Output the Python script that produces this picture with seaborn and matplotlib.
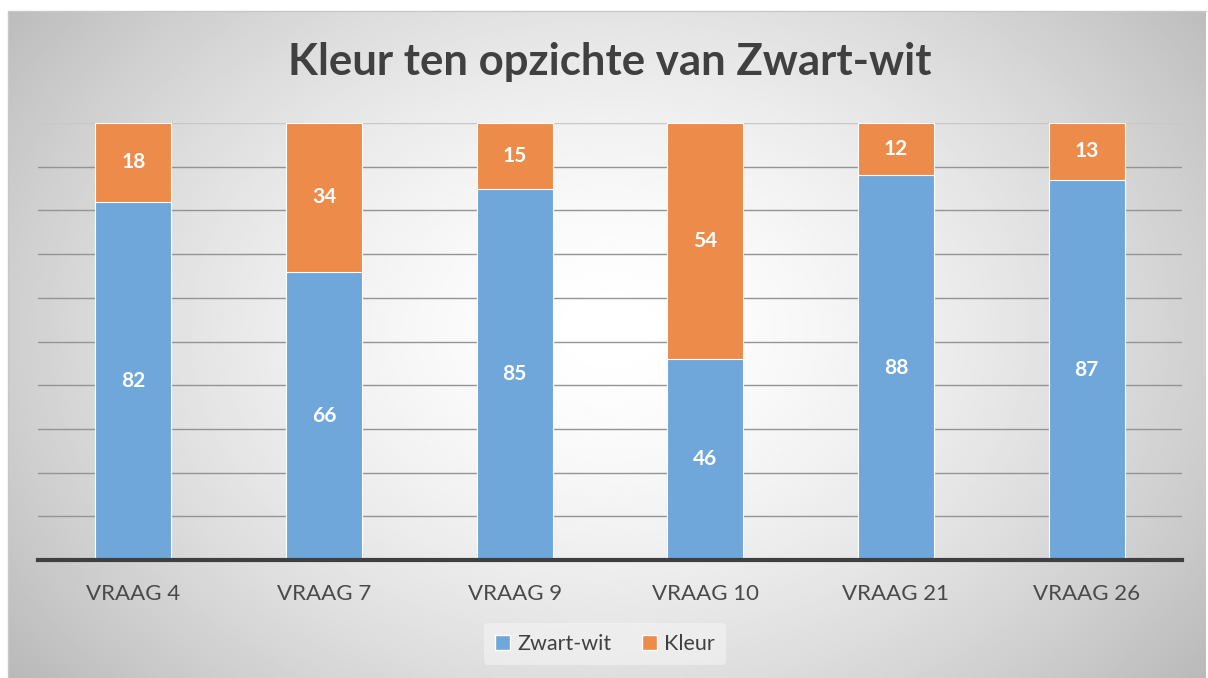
import numpy as np
import pandas as pd
import matplotlib
matplotlib.use("Agg")
import matplotlib.pyplot as plt
from matplotlib.patches import Patch
import seaborn as sns

categories = ["VRAAG 4", "VRAAG 7", "VRAAG 9", "VRAAG 10", "VRAAG 21", "VRAAG 26"]
zwart_wit = [82, 66, 85, 46, 88, 87]
kleur = [18, 34, 15, 54, 12, 13]
title = "Kleur ten opzichte van Zwart-wit"

sns.set_theme(style="white")
plt.rcParams['font.family'] = ['Lato', 'DejaVu Sans']

BLUE = "#6fa7db"
ORANGE = "#ec8b4a"

df = pd.DataFrame({"cat": categories, "zw": zwart_wit, "kl": kleur})
df["total"] = df["zw"] + df["kl"]

fig = plt.figure(figsize=(12.08, 6.78), dpi=100)
fig.patch.set_facecolor("white")

# background radial gradient
bg = fig.add_axes([0, 0, 1, 1], zorder=-10)
bg.set_xlim(0, 1208)
bg.set_ylim(678, 0)
bg.axis("off")
x0, x1, y0, y1 = 8, 1206, 11, 678
xs = np.linspace(x0, x1, 400)
ys = np.linspace(y0, y1, 250)
X, Y = np.meshgrid(xs, ys)
cx, cy = 610, 330
r = np.sqrt(((X - cx) / 700) ** 2 + ((Y - cy) / 520) ** 2)
val = 1.0 - 0.24 * np.clip(r, 0, 1.2) ** 1.6
bg.imshow(val, extent=(x0, x1, y1, y0), cmap="gray", vmin=0, vmax=1, aspect="auto", interpolation="bilinear")
bg.plot([x0, x1], [y0, y0], color="#c8c8c8", lw=1)
bg.plot([x0, x0], [y0, y1], color="#c8c8c8", lw=1)

ax = fig.add_axes([38 / 1208, 1 - 560 / 678, (1182 - 38) / 1208, (560 - 123) / 678])
ax.patch.set_alpha(0)

sns.barplot(data=df, x="cat", y="total", color=ORANGE, width=0.4, saturation=1,
            edgecolor="white", linewidth=0.8, ax=ax, zorder=3)
sns.barplot(data=df, x="cat", y="zw", color=BLUE, width=0.4, saturation=1,
            edgecolor="white", linewidth=0.8, ax=ax, zorder=3)

c_or, c_bl = ax.containers[0], ax.containers[1]
ax.bar_label(c_bl, labels=[str(v) for v in zwart_wit], label_type="center",
             color="white", fontsize=15, fontweight="bold", zorder=5)
for rect_o, rect_b, v in zip(c_or, c_bl, kleur):
    xc = rect_o.get_x() + rect_o.get_width() / 2
    yc = (rect_o.get_height() + rect_b.get_height()) / 2
    ax.text(xc, yc, str(v), ha="center", va="center", color="white",
            fontsize=15, fontweight="bold", zorder=5)

ax.set_xlim(-0.5, len(categories) - 0.5)
ax.set_ylim(0, 100)
ax.set_yticks(np.arange(0, 101, 10))
ax.set_yticklabels([])
ax.tick_params(axis="y", length=0)
for yv in np.arange(10, 101, 10):
    ax.axhline(yv, color="#949494" if yv < 100 else "#c8c8c8", lw=1, zorder=1)
ax.grid(False)
for s in ["top", "right", "left"]:
    ax.spines[s].set_visible(False)
ax.spines["bottom"].set_color("#3f3f3f")
ax.spines["bottom"].set_linewidth(3)
ax.spines["bottom"].set_zorder(6)
ax.set_xlabel("")
ax.set_ylabel("")
ax.tick_params(axis="x", length=0, pad=17, labelsize=16, labelcolor="#4a4a4a")

fig.text(610 / 1208, 1 - 62 / 678, title, ha="center", va="center",
         fontsize=31.5, fontweight="bold", color="#404040")

handles = [Patch(facecolor=BLUE, edgecolor="white", label="Zwart-wit"),
           Patch(facecolor=ORANGE, edgecolor="white", label="Kleur")]
leg = fig.legend(handles=handles, loc="center", bbox_to_anchor=(605 / 1208, 1 - 644 / 678),
                 ncol=2, frameon=True, fontsize=15.5, handlelength=0.7, handleheight=0.7,
                 handletextpad=0.35, columnspacing=1.4, borderpad=0.5)
leg.get_frame().set_facecolor("#f4f4f4")
leg.get_frame().set_edgecolor("none")
leg.get_frame().set_alpha(0.6)
for t in leg.get_texts():
    t.set_color("#404040")

fig.savefig("out.png", dpi=100, facecolor=fig.get_facecolor())
